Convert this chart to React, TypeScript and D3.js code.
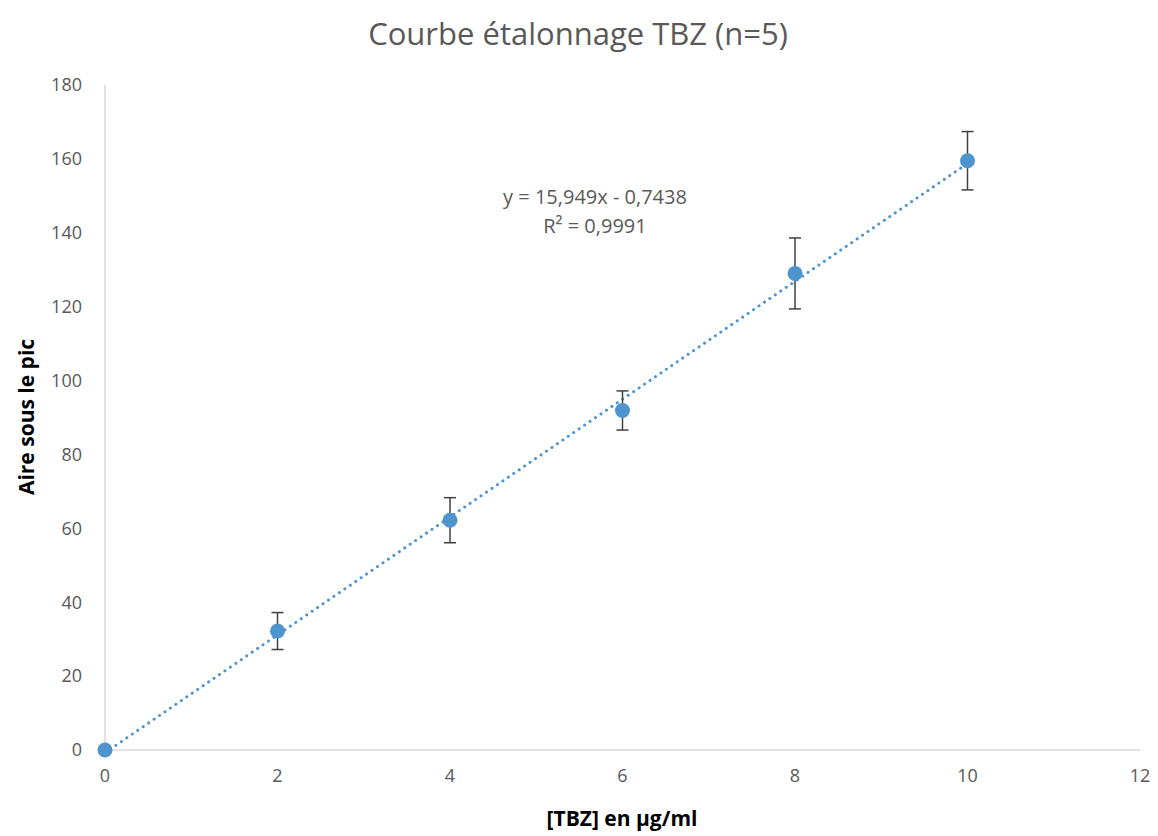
import React from "react";
import * as d3 from "d3";

const concentrations = [0, 2, 4, 6, 8, 10];
const areas = [0, 32.2, 62.2, 91.9, 129.0, 159.5];
const errors = [0, 5.0, 6.1, 5.3, 9.6, 7.9];
const xTicks = [0, 2, 4, 6, 8, 10, 12];
const yTicks = [0, 20, 40, 60, 80, 100, 120, 140, 160, 180];
const slope = 15.949;
const intercept = -0.7438;
const trendRange = [0, 10];
const title = "Courbe étalonnage TBZ (n=5)";
const xLabel = "[TBZ] en µg/ml";
const yLabel = "Aire sous le pic";
const equationLines = ["y = 15,949x - 0,7438", "R² = 0,9991"];

const W = 1158;
const H = 836;
const margin = { left: 105, right: 18, top: 85, bottom: 86 };
const font = "'Open Sans', 'Liberation Sans', sans-serif";

export default function App() {
  const x = d3.scaleLinear().domain([0, 12]).range([margin.left, W - margin.right]);
  const y = d3.scaleLinear().domain([0, 180]).range([H - margin.bottom, margin.top]);
  const blue = "#4e95d0";
  const grey = "#595959";

  const line = d3
    .line<number>()
    .x((d) => x(d))
    .y((d) => y(slope * d + intercept));

  return (
    <svg width={W} height={H} style={{ position: "absolute", left: 0, top: 0, background: "#fff" }}>
      <text x={578} y={45} textAnchor="middle" fontFamily={font} fontSize={31} fill={grey}>
        {title}
      </text>
      {/* axes */}
      <line x1={x(0)} x2={x(0)} y1={y(180)} y2={y(0)} stroke="#d9d9d9" strokeWidth={1.5} />
      <line x1={x(0)} x2={x(12)} y1={y(0)} y2={y(0)} stroke="#d9d9d9" strokeWidth={1.5} />
      {yTicks.map((t) => (
        <text key={"y" + t} x={x(0) - 23} y={y(t)} dy="0.35em" textAnchor="end" fontFamily={font} fontSize={18} fill={grey}>
          {t}
        </text>
      ))}
      {xTicks.map((t) => (
        <text key={"x" + t} x={x(t)} y={y(0) + 32} textAnchor="middle" fontFamily={font} fontSize={18} fill={grey}>
          {t}
        </text>
      ))}
      <text x={622} y={826} textAnchor="middle" fontFamily={font} fontSize={21} fontWeight="bold" fill="#000">
        {xLabel}
      </text>
      <text
        transform={`translate(34, ${y(0) - 333}) rotate(-90)`}
        textAnchor="middle"
        fontFamily={font}
        fontSize={21}
        fontWeight="bold"
        fill="#000"
      >
        {yLabel}
      </text>
      {/* trend line */}
      <path
        d={line(trendRange) || ""}
        fill="none"
        stroke={blue}
        strokeWidth={3}
        strokeDasharray="0.1 6.5"
        strokeLinecap="round"
      />
      {/* error bars */}
      {concentrations.map((c, i) =>
        errors[i] > 0 ? (
          <g key={"e" + i} stroke="#404040" strokeWidth={1.5}>
            <line x1={x(c)} x2={x(c)} y1={y(areas[i] + errors[i])} y2={y(areas[i] - errors[i])} />
            <line x1={x(c) - 6} x2={x(c) + 6} y1={y(areas[i] + errors[i])} y2={y(areas[i] + errors[i])} />
            <line x1={x(c) - 6} x2={x(c) + 6} y1={y(areas[i] - errors[i])} y2={y(areas[i] - errors[i])} />
          </g>
        ) : null
      )}
      {/* points */}
      {concentrations.map((c, i) => (
        <circle key={"p" + i} cx={x(c)} cy={y(areas[i])} r={7.5} fill={blue} />
      ))}
      {/* equation */}
      {equationLines.map((l, i) => (
        <text key={"eq" + i} x={595} y={204 + i * 29} textAnchor="middle" fontFamily={font} fontSize={20} fill={grey}>
          {l}
        </text>
      ))}
    </svg>
  );
}
